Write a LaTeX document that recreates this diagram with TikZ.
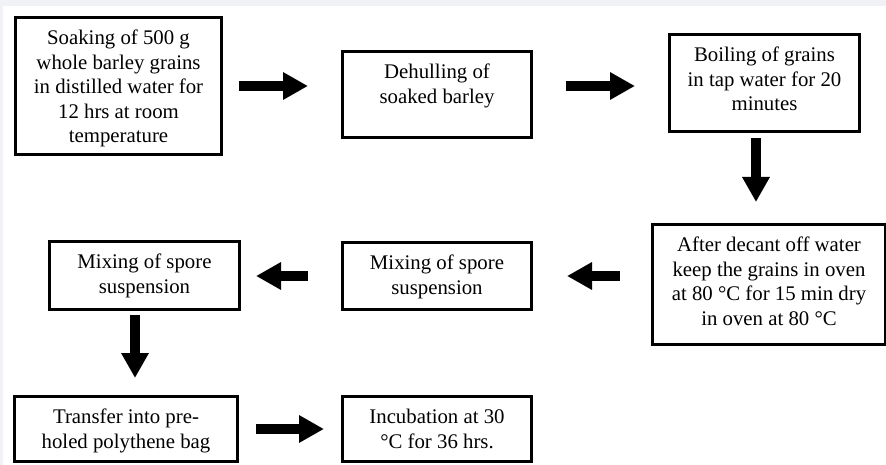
\documentclass[tikz,border=0pt]{standalone}
\usepackage{fontspec}
\setmainfont{Liberation Serif}
\usetikzlibrary{arrows.meta,calc}
\definecolor{bggray}{RGB}{240,242,245}
\begin{document}
\begin{tikzpicture}[x=1pt,y=-1pt,
  box/.style n args={2}{draw=black,line width=3pt,minimum width=#1,minimum height=#2,inner sep=0pt,outer sep=1.5pt},
  txt/.style={align=center,inner sep=0pt,anchor=north,font=\fontsize{20.8pt}{24.5pt}\selectfont},
  blk/.style={line width=9.5pt,-{Triangle[length=25pt,width=26pt]}}]
\useasboundingbox (0,0) rectangle (886,465);
\clip (0,0) rectangle (886,465);
\fill[bggray] (0,0) rectangle (886,465);
\fill[white] (3,6) rectangle (886,465);
% boxes
\node[box={206pt}{137pt}] (b1) at (118.5,86) {};
\node[box={189pt}{86pt}] (b2) at (437,94.5) {};
\node[box={190pt}{97pt}] (b3) at (764.5,83) {};
\node[box={233pt}{120pt}] (b4) at (769,284.5) {};
\node[box={189pt}{67pt}] (b5) at (437,276) {};
\node[box={190pt}{68pt}] (b6) at (144.5,275.5) {};
\node[box={223pt}{65pt}] (b7) at (126,429) {};
\node[box={189pt}{65pt}] (b8) at (437,429) {};
% texts
\node[txt] (t1) at ([yshift=-14pt]b1.north) {Soaking of 500 g\\whole barley grains\\in distilled water for\\12 hrs at room\\temperature};
\node[txt] (t2) at ([yshift=-14pt]b2.north) {Dehulling of\\soaked barley};
\node[txt] (t3) at ([yshift=-14pt]b3.north) {Boiling of grains\\in tap water for 20\\minutes};
\node[txt] (t4) at ([yshift=-14pt]b4.north) {After decant off water\\keep the grains in oven\\at 80 °C for 15 min dry\\in oven at 80 °C};
\node[txt] (t5) at ([yshift=-14pt]b5.north) {Mixing of spore\\suspension};
\node[txt] (t6) at ([yshift=-14pt]b6.north) {Mixing of spore\\suspension};
\node[txt] (t7) at ([yshift=-14pt]b7.north) {Transfer into pre-\\holed polythene bag};
\node[txt] (t8) at ([yshift=-14pt]b8.north) {Incubation at 30\\°C for 36 hrs.};
% arrows
\draw[blk,shorten <=16pt,shorten >=33pt] (b1.east) -- (b1.east -| b2.west);
\draw[blk,shorten <=33pt,shorten >=33pt] (b2.east |- b1.east) -- (b3.west |- b1.east);
\draw[blk,shorten <=5pt,shorten >=21pt] ([xshift=-8.5pt]b3.south) -- ([xshift=-8.5pt]b3.south |- b4.north);
\draw[blk,shorten <=31pt,shorten >=34pt] (b4.west |- b5.east) -- (b5.east);
\draw[blk,shorten <=33pt,shorten >=15pt] (b5.west) -- (b5.west -| b6.east);
\draw[blk,shorten <=4pt,shorten >=17pt] ([xshift=-9.5pt]b6.south) -- ([xshift=-9.5pt]b6.south |- b7.north);
\draw[blk,shorten <=17pt,shorten >=17pt] (b7.east) -- (b7.east -| b8.west);
\end{tikzpicture}
\end{document}
